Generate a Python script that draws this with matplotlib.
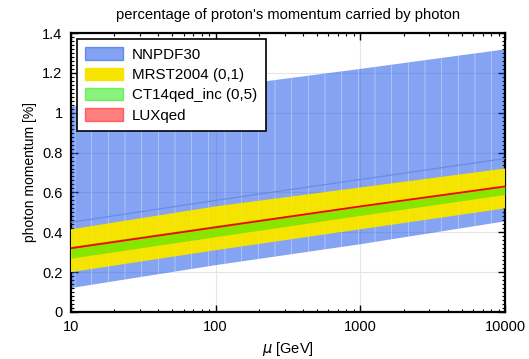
import matplotlib
matplotlib.use("Agg")
import matplotlib.pyplot as plt
from matplotlib.patches import Patch
from matplotlib.ticker import MultipleLocator, FixedLocator, FixedFormatter

plt.rcParams['font.family'] = ['Liberation Sans', 'DejaVu Sans']
plt.rcParams['hatch.linewidth'] = 0.5

# scale mu [GeV]
mu = [10, 100, 1000, 10000]

# NNPDF30 band and central value
nnpdf_lo = [0.12, 0.235, 0.34, 0.455]
nnpdf_hi = [1.03, 1.125, 1.22, 1.318]
nnpdf_c = [0.45, 0.56, 0.665, 0.77]

# MRST2004 (0,1)
mrst_lo = [0.20, 0.31, 0.415, 0.52]
mrst_hi = [0.415, 0.53, 0.625, 0.72]

# CT14qed_inc (0,5)
ct14_lo = [0.27, 0.378, 0.485, 0.59]
ct14_hi = [0.33, 0.435, 0.535, 0.635]

# LUXqed
lux = [0.32, 0.425, 0.53, 0.63]

xticks = [10, 100, 1000, 10000]
xticklabels = ['10', '100', '1000', '10000']

c_blue = (0.0, 0.25, 0.9)
c_yellow = '#f5e400'
c_green = (0.1, 0.9, 0.0)
c_red = (1.0, 0.0, 0.0)

fig = plt.figure(figsize=(5.29, 3.59), dpi=100)
ax = fig.add_axes([0.134, 0.131, 0.821, 0.777])

# faint vertical seams across the bands
seam = (1, 1, 1, 0.16)
ax.fill_between(mu, nnpdf_lo, nnpdf_hi, facecolor=c_blue, alpha=0.48,
                edgecolor=seam, linewidth=0, hatch='|', zorder=2)
ax.plot(mu, nnpdf_c, color='#6a8ae6', lw=0.9, zorder=3)
ax.fill_between(mu, mrst_lo, mrst_hi, facecolor=c_yellow,
                edgecolor=seam, linewidth=0, hatch='|', zorder=4)
ax.fill_between(mu, ct14_lo, ct14_hi, facecolor=c_green, alpha=0.5,
                edgecolor=(1, 1, 1, 0.0), linewidth=0, zorder=5)
ax.plot(mu, lux, color=c_red, lw=1.3, zorder=6)

ax.set_xscale('log')
ax.set_xlim(10, 10000)
ax.set_ylim(0, 1.4)
ax.xaxis.set_major_locator(FixedLocator(xticks))
ax.xaxis.set_major_formatter(FixedFormatter(xticklabels))
ax.yaxis.set_major_locator(MultipleLocator(0.2))
ax.yaxis.set_minor_locator(MultipleLocator(0.02))
ax.yaxis.set_major_formatter(plt.FuncFormatter(lambda v, p: '%g' % round(v, 1)))

ax.grid(True, which='major', color='#e6e6e6', lw=0.8, zorder=0)
ax.set_axisbelow(True)
ax.tick_params(which='both', direction='in', top=True, right=True,
               labelsize=10.5, color='black')
ax.tick_params(which='major', length=5, width=1.0, pad=6)
ax.tick_params(which='minor', length=2.5, width=0.8)
for s in ax.spines.values():
    s.set_linewidth(1.6)

ax.set_title("percentage of proton's momentum carried by photon", fontsize=10.6, pad=10)
ax.set_ylabel('photon momentum [%]', fontsize=10)
ax.set_xlabel(r'$\mu$ [GeV]', fontsize=10.5)

handles = [
    Patch(facecolor=c_blue, alpha=0.48, edgecolor=c_blue, label='NNPDF30'),
    Patch(facecolor=c_yellow, edgecolor=c_yellow, label='MRST2004 (0,1)'),
    Patch(facecolor=c_green, alpha=0.5, edgecolor=c_green, label='CT14qed_inc (0,5)'),
    Patch(facecolor=c_red, alpha=0.5, edgecolor=c_red, label='LUXqed'),
]
leg = ax.legend(handles=handles, loc='upper left', fontsize=10.9, fancybox=False,
                edgecolor='black', framealpha=1, borderaxespad=0.4,
                handlelength=2.5, handleheight=0.9, labelspacing=0.38,
                borderpad=0.55, handletextpad=0.6)
leg.get_frame().set_linewidth(1.2)
leg.set_zorder(10)

fig.savefig('out.png', dpi=100)
